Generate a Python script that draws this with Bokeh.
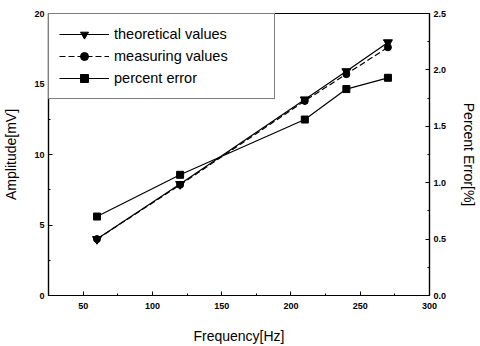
from bokeh.plotting import figure
from bokeh.models import Range1d, LinearAxis, Legend, LegendItem, FixedTicker, PrintfTickFormatter
from bokeh.embed import file_html
from bokeh.resources import INLINE

freq = [60, 120, 210, 240, 270]
theoretical = [4.0, 7.9, 13.9, 15.9, 17.95]
measuring = [4.0, 7.85, 13.8, 15.7, 17.6]
percent_error = [0.70, 1.07, 1.56, 1.83, 1.93]

x_ticks = [50, 100, 150, 200, 250, 300]
y_ticks = [0, 5, 10, 15, 20]
err_ticks = [0.0, 0.5, 1.0, 1.5, 2.0, 2.5]

FONT = "Liberation Sans"

p = figure(width=480, height=346, output_backend="svg", toolbar_location=None,
           x_range=Range1d(25, 300), y_range=Range1d(0, 20),
           min_border_left=48, min_border_right=51, min_border_top=13, min_border_bottom=50)
p.extra_y_ranges = {"err": Range1d(0, 2.5)}
p.xgrid.visible = False
p.ygrid.visible = False
p.outline_line_color = "black"
p.outline_line_width = 1.2
p.background_fill_color = "white"
p.border_fill_color = "white"

r1l = p.line(freq, theoretical, line_color="black", line_width=1.2)
r1m = p.scatter(freq, theoretical, marker="inverted_triangle", size=9, color="black")
r2l = p.line(freq, measuring, line_color="black", line_width=1.2, line_dash="6 3")
r2m = p.scatter(freq, measuring, marker="circle", size=7, color="black")
r3l = p.line(freq, percent_error, line_color="black", line_width=1.2, y_range_name="err")
r3m = p.scatter(freq, percent_error, marker="square", size=7, color="black", y_range_name="err")

right = LinearAxis(y_range_name="err", axis_label="Percent Error[%]")
p.add_layout(right, "right")

for ax in (p.xaxis[0], p.yaxis[0], right):
    ax.major_tick_in = 4
    ax.major_tick_out = 0
    ax.minor_tick_in = 2
    ax.minor_tick_out = 0
    ax.axis_line_color = "black"
    ax.axis_line_width = 1.2
    ax.major_tick_line_color = "black"
    ax.minor_tick_line_color = "black"
    ax.major_label_text_font = FONT
    ax.major_label_text_font_style = "bold"
    ax.major_label_text_font_size = "9px"
    ax.major_label_text_color = "black"
    ax.axis_label_text_font = FONT
    ax.axis_label_text_font_style = "normal"
    ax.axis_label_text_font_size = "14px"
    ax.axis_label_text_color = "black"

p.xaxis[0].ticker = FixedTicker(ticks=x_ticks, minor_ticks=[75, 125, 175, 225, 275])
p.yaxis[0].ticker = FixedTicker(ticks=y_ticks, minor_ticks=[2.5, 7.5, 12.5, 17.5])
right.ticker = FixedTicker(ticks=err_ticks, minor_ticks=[0.25, 0.75, 1.25, 1.75, 2.25])
right.formatter = PrintfTickFormatter(format="%.1f")
right.major_label_text_align = "left"

p.xaxis[0].axis_label = "Frequency[Hz]"
p.yaxis[0].axis_label = "Amplitude[mV]"
p.xaxis[0].major_label_standoff = 7
p.xaxis[0].axis_label_standoff = 16
p.yaxis[0].major_label_standoff = 4
p.yaxis[0].axis_label_standoff = 12
right.major_label_standoff = 4
right.axis_label_standoff = 12

legend = Legend(items=[
    LegendItem(label="theoretical values", renderers=[r1l, r1m]),
    LegendItem(label="measuring values", renderers=[r2l, r2m]),
    LegendItem(label="percent error", renderers=[r3l, r3m]),
], location="top_left")
legend.margin = 0
legend.padding = 10
legend.spacing = 2
legend.glyph_width = 50
legend.glyph_height = 20
legend.label_height = 20
legend.label_width = 150
legend.label_standoff = 5
legend.border_line_color = "black"
legend.border_line_width = 1.2
legend.background_fill_alpha = 1
legend.label_text_font = FONT
legend.label_text_font_size = "14.5px"
legend.label_text_color = "black"
p.add_layout(legend)

open("out.html", "w").write(file_html(p, INLINE))
